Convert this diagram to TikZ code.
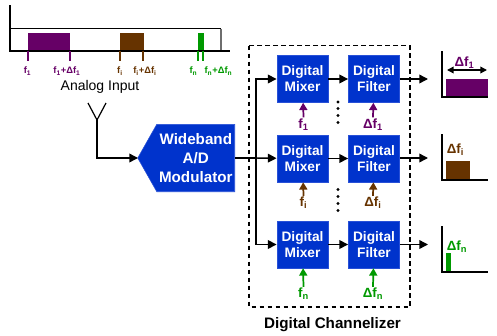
\documentclass[tikz,border=0pt]{standalone}
\usepackage{fontspec}
\setmainfont{Liberation Sans}
\usetikzlibrary{arrows.meta}
\usetikzlibrary{shapes.symbols}
\definecolor{blockblue}{RGB}{0,51,204}
\definecolor{chanone}{RGB}{102,0,102}
\definecolor{chanmid}{RGB}{102,51,0}
\definecolor{chanlast}{RGB}{0,153,0}
\tikzset{
  blockbox/.style={draw={rgb,255:red,40;green,80;blue,215},fill=blockblue,text=white,font=\fontsize{10.3}{12}\selectfont\bfseries,align=center,minimum width=38.5pt,minimum height=35.25pt,inner sep=0pt},
  sigline/.style={line width=1.1pt,-{Triangle[length=6.5pt,width=6.5pt]}},
  tuneline/.style={line width=1.3pt,-{Triangle[length=5.5pt,width=6pt]}},
  axisline/.style={line width=1.2pt},
  freqlabel/.style={font=\fontsize{7}{8}\selectfont\bfseries,inner sep=0pt},
  tunelabel/.style={font=\fontsize{10}{11}\selectfont\bfseries,inner sep=0pt},
  dotmark/.style={circle,fill=black,inner sep=0pt,minimum size=2.6pt}
}
\begin{document}
\begin{tikzpicture}[x=0.75pt,y=0.75pt,yscale=-1,xscale=1]
\useasboundingbox (0,0) rectangle (497,336);
% input spectrum
\draw [line width=0.9pt] (10,28.5) -- (221,28.5) ;
\draw [line width=0.9pt,color={rgb,255:red,110;green,110;blue,110}] (221,28.5) -- (221,51) ;
\fill [chanone] (28,33) rectangle (70,51) ;
\fill [chanmid] (120,33) rectangle (143.5,51) ;
\fill [chanlast] (198,33) rectangle (203.5,51) ;
\draw [axisline] (10,5) -- (10,51) -- (230,51) ;
\draw [chanone,line width=1.2pt] (28,51) -- (28,61) (70,51) -- (70,61) ;
\draw [chanmid,line width=1.2pt] (120,51) -- (120,61) (143,51) -- (143,61) ;
\draw [chanlast,line width=1.2pt] (198,51) -- (198,61) (203,51) -- (203,61) ;
\node [freqlabel,color=chanone] (lowone) at (27.5,71) {f\textsubscript{1}};
\node [freqlabel,color=chanone] (highone) at (67,71) {f\textsubscript{1}+Δf\textsubscript{1}};
\node [freqlabel,color=chanmid] (lowmid) at (120,71) {f\textsubscript{i}};
\node [freqlabel,color=chanmid] (highmid) at (145,71) {f\textsubscript{i}+Δf\textsubscript{i}};
\node [freqlabel,color=chanlast] (lowlast) at (193.5,71) {f\textsubscript{n}};
\node [freqlabel,color=chanlast] (highlast) at (218.5,71) {f\textsubscript{n}+Δf\textsubscript{n}};
\node [font=\fontsize{10.5}{12}\selectfont,inner sep=0pt] (analog) at (100,87) {Analog Input};
% antenna and modulator
\coordinate (antleft) at (88,103);
\coordinate (antright) at (106,103);
\coordinate (antfoot) at (97,120);
\node [blockbox,shape=signal,signal to=west,signal pointer angle=121,anchor=east,minimum width=72.75pt,minimum height=50.6pt,font=\fontsize{11.4}{14}\selectfont\bfseries] (modulator) at (235,158) {Wideband\\A/D\\Modulator};
\coordinate (anttip) at (138,158);
\draw [line width=0.9pt] (antleft) -- (antfoot) -- (antright) ;
\draw [sigline] (antfoot) |- (anttip) ;
% channelizer
\draw [line width=1.2pt,dash pattern=on 3.5pt off 2.5pt] (249,45.5) rectangle (410,307) ;
\node [blockbox] (mixerone) at (302.5,79) {Digital\\Mixer};
\node [blockbox] (mixermid) at (302.5,158.5) {Digital\\Mixer};
\node [blockbox] (mixerlast) at (302.5,244.5) {Digital\\Mixer};
\node [blockbox] (filterone) at (374,79) {Digital\\Filter};
\node [blockbox] (filtermid) at (374,158.5) {Digital\\Filter};
\node [blockbox] (filterlast) at (374,244.5) {Digital\\Filter};
\coordinate (trunk) at (256,158);
\draw [line width=1.1pt] (modulator.east) -- (trunk) ;
\draw [sigline] (trunk) -- (mixermid) ;
\draw [sigline] (trunk) |- (mixerone) ;
\draw [sigline] (trunk) |- (mixerlast) ;
\draw [sigline] (mixerone) -- (filterone) ;
\draw [sigline] (mixermid) -- (filtermid) ;
\draw [sigline] (mixerlast) -- (filterlast) ;
\coordinate (outone) at (428,79);
\coordinate (outmid) at (428,158);
\coordinate (outlast) at (428,244.5);
\draw [sigline] (filterone) -- (outone) ;
\draw [sigline] (filtermid.east |- outmid) -- (outmid) ;
\draw [sigline] (filterlast) -- (outlast) ;
% tuning inputs
\node [tunelabel,color=chanone] (tunemixerone) at (303.5,124.5) {f\textsubscript{1}};
\node [tunelabel,color=chanone] (tunefilterone) at (373,124.5) {Δf\textsubscript{1}};
\node [tunelabel,color=chanmid] (tunemixermid) at (303.5,203) {f\textsubscript{i}};
\node [tunelabel,color=chanmid] (tunefiltermid) at (373,203) {Δf\textsubscript{i}};
\node [tunelabel,color=chanlast] (tunemixerlast) at (303.5,294) {f\textsubscript{n}};
\node [tunelabel,color=chanlast] (tunefilterlast) at (373,294) {Δf\textsubscript{n}};
\draw [tuneline,chanone] (tunemixerone.north) ++(0,-1) -- (mixerone) ;
\draw [tuneline,chanone] (tunefilterone.north) ++(0,-1) -- (filterone) ;
\draw [tuneline,chanmid] (tunemixermid.north) ++(0,-1) -- (mixermid) ;
\draw [tuneline,chanmid] (tunefiltermid.north) ++(0,-1) -- (filtermid) ;
\draw [tuneline,chanlast] (tunemixerlast.north) ++(0,-1) -- (mixerlast) ;
\draw [tuneline,chanlast] (tunefilterlast.north) ++(0,-1) -- (filterlast) ;
\node [dotmark] (dotone) at (338,102) {};
\node [dotmark] (dottwo) at (338,108.5) {};
\node [dotmark] (dotthree) at (338,115.5) {};
\node [dotmark] (dotfour) at (338,122.5) {};
\node [dotmark] (dotfive) at (338,189.5) {};
\node [dotmark] (dotsix) at (338,196.5) {};
\node [dotmark] (dotseven) at (338,203.5) {};
\node [dotmark] (doteight) at (338,210.5) {};
\node [font=\fontsize{11.4}{13}\selectfont\bfseries,inner sep=0pt] (channelizer) at (332.5,324.5) {Digital Channelizer};
% output spectra
\fill [chanone] (446,79) rectangle (488,97) ;
\draw [axisline] (442,51) -- (442,97) -- (488,97) ;
\coordinate (spanleft) at (447,70);
\coordinate (spanright) at (487,70);
\draw [line width=1.1pt,{Triangle[length=5pt,width=5pt]}-{Triangle[length=5pt,width=5pt]}] (spanleft) -- (spanright) ;
\node [tunelabel,color=chanone] (widthone) at (464.5,63) {Δf\textsubscript{1}};
\fill [chanmid] (446,161) rectangle (470,180) ;
\draw [axisline] (442,134) -- (442,180) -- (488,180) ;
\node [tunelabel,color=chanmid] (widthmid) at (455.5,150) {Δf\textsubscript{i}};
\fill [chanlast] (446,253) rectangle (451,272) ;
\draw [axisline] (442,226) -- (442,272) -- (488,272) ;
\node [tunelabel,color=chanlast] (widthlast) at (457,247) {Δf\textsubscript{n}};
\end{tikzpicture}
\end{document}
